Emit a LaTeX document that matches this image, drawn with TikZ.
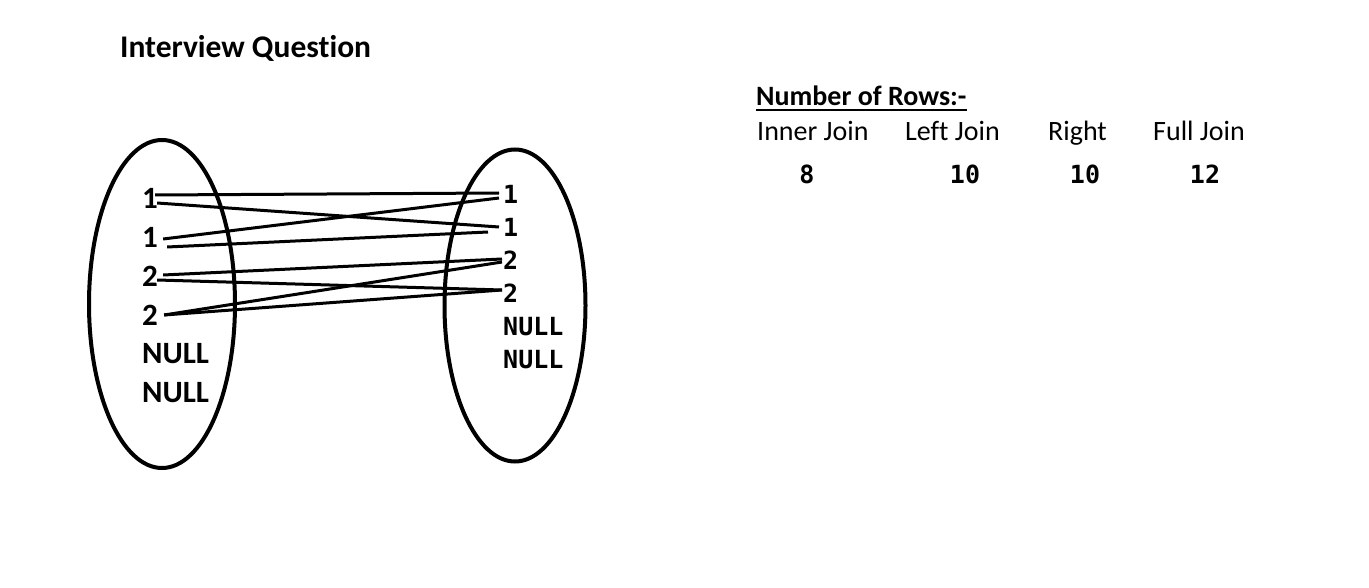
\documentclass[tikz,border=0pt]{standalone}
\usepackage{fontspec}
\setmainfont{Carlito}[Ligatures=NoCommon]
\newfontfamily\codefont{DejaVu Sans Mono}
\usetikzlibrary{calc}
\tikzset{
  lval/.style={anchor=west, inner sep=0pt, font=\fontsize{31}{37}\selectfont\bfseries},
  rval/.style={anchor=west, inner sep=0pt, font=\fontsize{25}{30}\selectfont\codefont\bfseries},
  hdr/.style={anchor=base west, inner sep=0pt, font=\fontsize{28}{34}\selectfont},
  hdrbold/.style={hdr, font=\fontsize{28}{34}\selectfont\bfseries},
  cnt/.style={anchor=base, inner sep=0pt, font=\fontsize{25}{30}\selectfont\codefont\bfseries},
  setline/.style={line width=4pt},
  link/.style={line width=3pt},
}
\begin{document}
\begin{tikzpicture}[x=1pt,y=-1pt]
    \useasboundingbox (0,0) rectangle (1369,588);

    % Title
    \node[hdrbold, font=\fontsize{31.5}{38}\selectfont\bfseries] (title) at (120,58) {Interview Question};

    % Sets
    \draw[setline] (162,304) ellipse [x radius=73pt, y radius=164pt];
    \draw[setline] (515,305.5) ellipse [x radius=70.5pt, y radius=156pt];

    % Left table
    \node[lval] (l1a) at (142,198) {1};
    \node[lval] (l1b) at (142,237) {1};
    \node[lval] (l2a) at (142,276) {2};
    \node[lval] (l2b) at (142,315) {2};
    \node[lval] (lnull1) at (142,354) {NULL};
    \node[lval] (lnull2) at (142,393) {NULL};

    % Right table
    \node[rval] (r1a) at (503,194) {1};
    \node[rval] (r1b) at (503,227) {1};
    \node[rval] (r2a) at (503,260) {2};
    \node[rval] (r2b) at (503,293) {2};
    \node[rval] (rnull1) at (503,327) {NULL};
    \node[rval] (rnull2) at (503,360) {NULL};

    % Matches
    \draw[link] ($(l1a.east)+(-3,-3)$) -- ($(r1a.west)+(-4,-1)$);
    \draw[link] ($(l1a.east)+(-1,5)$) -- ($(r1b.west)+(-4,0)$);
    \draw[link] ($(l1b.east)+(5,2)$) -- ($(r1a.west)+(-4,4)$);
    \draw[link] ($(l1b.east)+(9,10)$) -- ($(r1b.west)+(-15,5)$);
    \draw[link] ($(l2a.east)+(5,-1)$) -- ($(r2a.west)+(-1,-1)$);
    \draw[link] ($(l2a.east)+(-1,4)$) -- ($(r2b.west)+(-1,-3)$);
    \draw[link] ($(l2b.east)+(6,0)$) -- ($(r2a.west)+(-1,2)$);
    \draw[link] ($(l2b.east)+(6,0)$) -- ($(r2b.west)+(-1,-3)$);

    % Row counts
    \node[hdrbold] (rows) at (756,106) {Number of Rows:-};
    \draw[line width=2.4pt] ([yshift=-4pt]rows.base west) -- ([yshift=-4pt]rows.base east);
    \node[hdr] (inner) at (757,141) {Inner Join};
    \node[hdr] (left) at (905,141) {Left Join};
    \node[hdr] (right) at (1048,141) {Right};
    \node[hdr] (full) at (1153,141) {Full Join};
    \node[cnt] (ninner) at (807,184) {8};
    \node[cnt] (nleft) at (965,184) {10};
    \node[cnt] (nright) at (1085,184) {10};
    \node[cnt] (nfull) at (1205,184) {12};
\end{tikzpicture}
\end{document}
